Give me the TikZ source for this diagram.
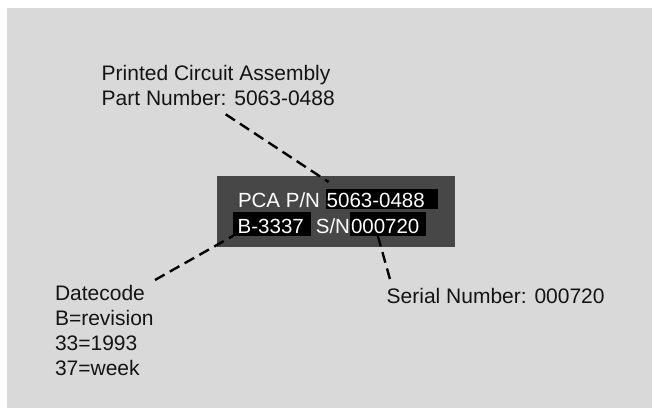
\documentclass[tikz,border=0pt]{standalone}
\usepackage{fontspec}
\setmainfont{Liberation Sans}
\definecolor{bggrey}{RGB}{217,217,217}
\definecolor{boxgrey}{RGB}{71,71,71}
\definecolor{ink}{RGB}{20,20,20}
\begin{document}
\begin{tikzpicture}[x=1pt,y=-1pt,
  txt/.style={anchor=base west,inner sep=0pt,outer sep=0pt,font=\fontsize{21}{25}\selectfont},
  label/.style={txt,align=left,text=ink},
  boxtxt/.style={txt,text=white,font=\fontsize{20.5}{25}\selectfont},
  hl/.style={fill=black,draw=none,inner sep=0pt,outer sep=0pt,anchor=north west},
  leader/.style={draw=black,line width=2.4pt,dash pattern=on 11pt off 6pt}]
\useasboundingbox (0,0) rectangle (652,408);
\fill[white] (0,0) rectangle (652,408);
\fill[bggrey] (7,8) rectangle (652,408);
% label box
\node[fill=boxgrey,inner sep=0pt,outer sep=0pt,anchor=north west,minimum width=237.5pt,minimum height=71pt] (box) at (217,176) {};
% highlights
\node[hl,minimum width=112.6pt,minimum height=20pt] (hl1) at (325.7,188.7) {};
\node[hl,minimum width=77.7pt,minimum height=23.5pt] (hl2) at (233.3,212.2) {};
\node[hl,minimum width=76pt,minimum height=23.5pt] (hl3) at (350,212.2) {};
% box texts
\node[boxtxt] (pca) at (238,207) {PCA P/N};
\node[boxtxt] (pnum) at (326.7,207) {5063-0488};
\node[boxtxt] (bdate) at (237.7,233.3) {B-3337};
\node[boxtxt,anchor=base east] (sn) at (350,233.3) {S/N};
\node[boxtxt] (snum) at (351,233.3) {000720};
% labels (base anchor of a multi-line node = last line's baseline)
\node[label] (pnlabel) at (101.7,105.5) {Printed Circuit Assembly\\Part Number: 5063-0488};
\node[label] (datelabel) at (55,375) {Datecode\\B=revision\\33=1993\\37=week};
\node[label] (snlabel) at (386.7,303.3) {Serial Number: 000720};
% leader ends
\coordinate (pnstart) at (225.7,114.3);
\coordinate (pnend) at (328.5,182);
\coordinate (datestart) at (155,280);
\coordinate (snstart) at (377.8,235.7);
\coordinate (snend) at (390,279.3);
\draw[leader] (pnstart) -- (pnend);
\draw[leader] (datestart) -- (hl2.south west);
\draw[leader] (snstart) -- (snend);
\end{tikzpicture}
\end{document}
